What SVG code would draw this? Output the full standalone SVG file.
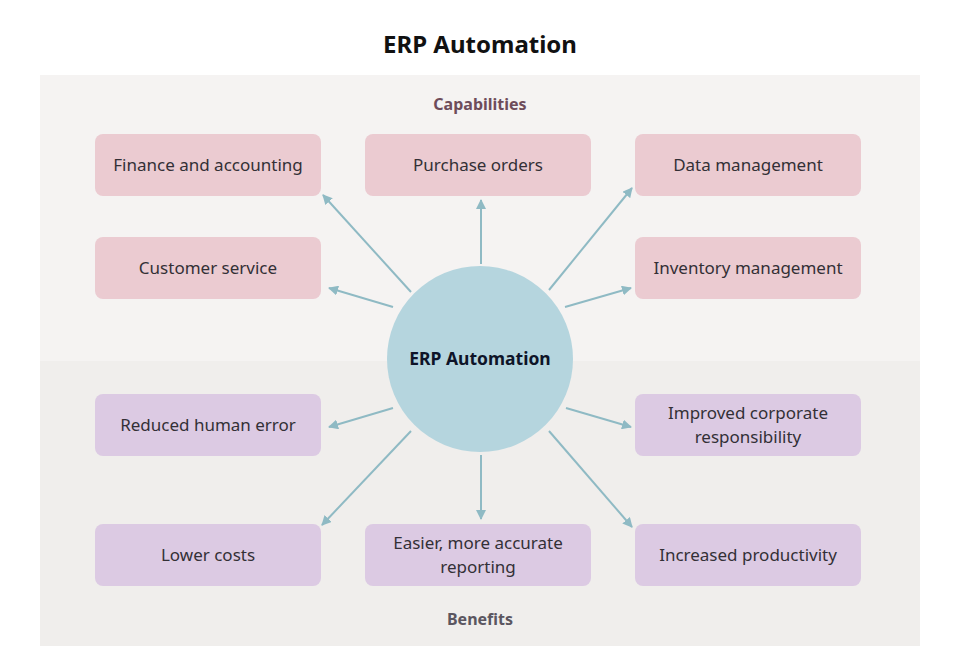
<svg xmlns="http://www.w3.org/2000/svg" width="962" height="663" viewBox="0 0 962 663">
<style>
.t{font-family:"Noto Sans","Open Sans","Liberation Sans",sans-serif;font-size:17px;fill:#333036;text-anchor:middle;dominant-baseline:central}
.cap{fill:#ebcbd1}
.ben{fill:#dccae3}
.h{font-family:"Noto Sans","Open Sans","Liberation Sans",sans-serif;font-weight:bold;text-anchor:middle}
.c line{stroke:#8fbac4;stroke-width:2;marker-end:url(#ah)}
</style>
<defs>
<marker id="ah" viewBox="0 0 10 10" refX="9" refY="5" markerWidth="5" markerHeight="5" orient="auto" markerUnits="strokeWidth">
<path d="M0,0 L10,5 L0,10 Z" fill="#8fbac4"/>
</marker>
</defs>
<rect width="962" height="663" fill="#ffffff"/>
<rect x="40" y="75" width="880" height="286" fill="#f5f3f2"/>
<rect x="40" y="361" width="880" height="285" fill="#f0eeec"/>
<text class="h" x="480" y="53" font-size="24" fill="#111111">ERP Automation</text>
<text class="h" x="480" y="110" font-size="16" fill="#6e4c5a">Capabilities</text>
<text class="h" x="480" y="625" font-size="16" fill="#5b5660">Benefits</text>
<g class="c" id="connectors">
<line x1="411" y1="292" x2="323" y2="195"/>
<line x1="481" y1="264" x2="481" y2="200"/>
<line x1="549" y1="290" x2="632" y2="188"/>
<line x1="393" y1="307" x2="329" y2="288"/>
<line x1="565" y1="307" x2="631" y2="288"/>
<line x1="393" y1="408" x2="329" y2="427"/>
<line x1="566" y1="408" x2="631" y2="427"/>
<line x1="411" y1="431" x2="322" y2="525"/>
<line x1="481" y1="455" x2="481" y2="519"/>
<line x1="549" y1="431" x2="632" y2="527"/>
</g>
<g id="center">
<circle cx="480" cy="359" r="93" fill="#b5d5de"/>
<text class="h" x="480" y="365" font-size="17.5" fill="#0e1428">ERP Automation</text>
</g>
<g id="finance"><rect class="cap" x="95" y="134" width="226" height="62" rx="8"/><text class="t" x="208" y="164">Finance and accounting</text></g>
<g id="purchase"><rect class="cap" x="365" y="134" width="226" height="62" rx="8"/><text class="t" x="478" y="164">Purchase orders</text></g>
<g id="data"><rect class="cap" x="635" y="134" width="226" height="62" rx="8"/><text class="t" x="748" y="164">Data management</text></g>
<g id="customer"><rect class="cap" x="95" y="237" width="226" height="62" rx="8"/><text class="t" x="208" y="267">Customer service</text></g>
<g id="inventory"><rect class="cap" x="635" y="237" width="226" height="62" rx="8"/><text class="t" x="748" y="267">Inventory management</text></g>
<g id="reduced"><rect class="ben" x="95" y="394" width="226" height="62" rx="8"/><text class="t" x="208" y="424">Reduced human error</text></g>
<g id="improved"><rect class="ben" x="635" y="394" width="226" height="62" rx="8"/><text class="t" x="748" y="412">Improved corporate</text><text class="t" x="748" y="436">responsibility</text></g>
<g id="lower"><rect class="ben" x="95" y="524" width="226" height="62" rx="8"/><text class="t" x="208" y="554">Lower costs</text></g>
<g id="easier"><rect class="ben" x="365" y="524" width="226" height="62" rx="8"/><text class="t" x="478" y="542">Easier, more accurate</text><text class="t" x="478" y="566">reporting</text></g>
<g id="increased"><rect class="ben" x="635" y="524" width="226" height="62" rx="8"/><text class="t" x="748" y="554">Increased productivity</text></g>
</svg>
